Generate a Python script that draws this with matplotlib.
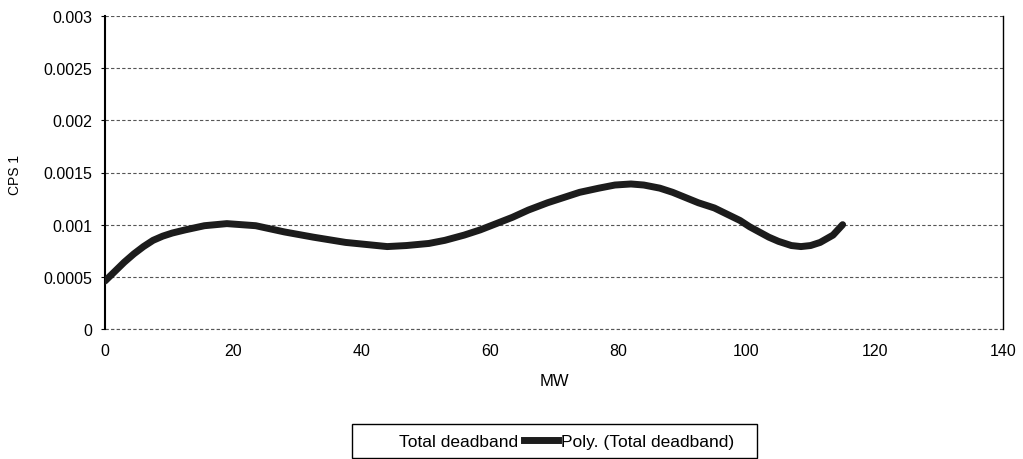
import matplotlib
matplotlib.use("Agg")
import matplotlib.pyplot as plt
from matplotlib.lines import Line2D
from matplotlib.patches import Rectangle

plt.rcParams['font.family'] = ['Liberation Sans', 'DejaVu Sans']

# Data (polynomial trendline of total deadband)
mw = [0, 1.5, 3, 4.5, 6, 7.5, 9, 10.5, 12.5, 15.5, 19, 23.5, 28, 32.5, 37.5,
      44, 47, 50.5, 53, 56, 58.5, 61, 63.5, 66, 69, 71.5, 74, 77, 79.5, 82,
      84, 86.5, 88.5, 90.5, 92.5, 95, 97, 99, 100.5, 102, 103.5, 105, 107,
      108.5, 110, 111.5, 113.5, 115]
cps1 = [0.00046, 0.00055, 0.00064, 0.00072, 0.00079, 0.00085, 0.00089,
        0.00092, 0.00095, 0.00099, 0.00101, 0.00099, 0.00093, 0.00088,
        0.00083, 0.00079, 0.00080, 0.00082, 0.00085, 0.00090, 0.00095,
        0.00101, 0.00107, 0.00114, 0.00121, 0.00126, 0.00131, 0.00135,
        0.00138, 0.00139, 0.00138, 0.00135, 0.00131, 0.00126, 0.00121,
        0.00116, 0.00110, 0.00104, 0.00098, 0.00093, 0.00088, 0.00084,
        0.00080, 0.00079, 0.00080, 0.00083, 0.00090, 0.00100]

x_ticks = [0, 20, 40, 60, 80, 100, 120, 140]
y_ticks = [0, 0.0005, 0.001, 0.0015, 0.002, 0.0025, 0.003]
y_labels = ['0', '0.0005', '0.001', '0.0015', '0.002', '0.0025', '0.003']

fig = plt.figure(figsize=(10.23, 4.60), dpi=100)
ax = fig.add_axes([105/1023, 1 - 330/460, (1003-105)/1023, (330-17)/460])

ax.plot(mw, cps1, color='#1c1c1c', lw=5, solid_capstyle='round',
        solid_joinstyle='round', zorder=3)

ax.set_xlim(0, 140)
ax.set_ylim(0, 0.003)
ax.set_xticks(x_ticks)
ax.set_xticklabels([str(t) for t in x_ticks])
ax.set_yticks(y_ticks)
ax.set_yticklabels(y_labels)
ax.tick_params(axis='x', length=0, pad=10, labelsize=11.5)
ax.tick_params(axis='y', length=3, pad=6, labelsize=11.5)

ax.grid(axis='y', linestyle=(0, (3, 2)), color='#555555', lw=0.8)
ax.axhline(0, linestyle=(0, (3, 2)), color='#555555', lw=0.8, clip_on=False)
ax.set_axisbelow(True)
for s in ['top', 'bottom']:
    ax.spines[s].set_visible(False)
ax.spines['left'].set_linewidth(1.5)
ax.spines['right'].set_linewidth(1.0)

ax.set_xlabel('MW', fontsize=12, labelpad=11)
fig.text(15/1023, 1 - 175/460, 'CPS 1', rotation=90, ha='center',
         va='center', fontsize=10)

# legend box
fig.patches.append(Rectangle((352/1023, 1 - 459/460), (757-352)/1023,
                             (459-425)/460, transform=fig.transFigure,
                             fill=False, edgecolor='black', lw=1.0))
handles = [Line2D([], [], color='none', lw=0),
           Line2D([], [], color='#1c1c1c', lw=5)]
leg = fig.legend(handles, ['Total deadband', 'Poly. (Total deadband)'],
                 ncol=2, loc='center left',
                 bbox_to_anchor=(362/1023, 1 - 442/460),
                 fontsize=12.5, frameon=False, handlelength=2.0,
                 handletextpad=0.15, columnspacing=0.3, borderpad=0,
                 borderaxespad=0)

fig.savefig('out.png', dpi=100)
